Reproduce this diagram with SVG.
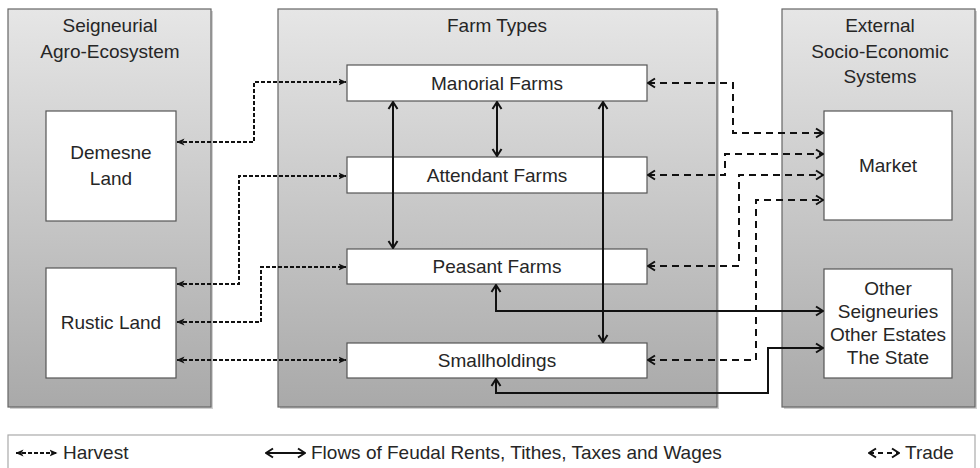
<svg xmlns="http://www.w3.org/2000/svg" width="980" height="468" viewBox="0 0 980 468">
<defs>
<linearGradient id="pg" x1="0" y1="0" x2="0" y2="1">
<stop offset="0" stop-color="#e6e6e6"/>
<stop offset="1" stop-color="#a9a9a9"/>
</linearGradient>
<marker id="hh" viewBox="0 0 8 8" refX="7.5" refY="4" markerWidth="8" markerHeight="8" markerUnits="userSpaceOnUse" orient="auto-start-reverse">
<path d="M0,0.5 L8,4 L0,7.5 L2,4 Z" fill="#111"/>
</marker>
<marker id="oc" viewBox="0 0 10 12" refX="9" refY="6" markerWidth="10" markerHeight="12" markerUnits="userSpaceOnUse" orient="auto-start-reverse">
<path d="M2,1.5 L9,6 L2,10.5" fill="none" stroke="#111" stroke-width="2"/>
</marker>
</defs>
<style>
.panel{fill:url(#pg);stroke:#666;stroke-width:1.2}
.shadow{fill:#999;opacity:0.45}
.box{fill:#fff;stroke:#555;stroke-width:1.2}
text{font-family:"Liberation Sans",Arial,sans-serif;font-size:19px;fill:#262626;text-anchor:middle}
.h{fill:none;stroke:#111;stroke-width:2;stroke-dasharray:4 2;marker-start:url(#hh);marker-end:url(#hh)}
.t{fill:none;stroke:#111;stroke-width:2;stroke-dasharray:7 5;marker-start:url(#oc);marker-end:url(#oc)}
.s{fill:none;stroke:#111;stroke-width:2;marker-start:url(#oc);marker-end:url(#oc)}
</style>
<rect width="980" height="468" fill="#fff"/>

<g id="panel-seigneurial">
<rect class="shadow" x="10" y="11" width="203" height="398"/>
<rect class="panel" x="8" y="9" width="203" height="398"/>
<text x="110" y="32">Seigneurial</text>
<text x="110" y="58">Agro-Ecosystem</text>
</g>
<g id="panel-farm-types">
<rect class="shadow" x="280" y="11" width="439" height="398"/>
<rect class="panel" x="278" y="9" width="439" height="398"/>
<text x="497" y="32">Farm Types</text>
</g>
<g id="panel-external">
<rect class="shadow" x="784" y="11" width="193" height="398"/>
<rect class="panel" x="782" y="9" width="193" height="398"/>
<text x="880" y="32">External</text>
<text x="880" y="58">Socio-Economic</text>
<text x="880" y="83">Systems</text>
</g>

<g id="demesne-land">
<rect class="box" x="46" y="111" width="130" height="110"/>
<text x="111" y="159">Demesne</text>
<text x="111" y="185">Land</text>
</g>
<g id="rustic-land">
<rect class="box" x="46" y="268" width="130" height="110"/>
<text x="111" y="329">Rustic Land</text>
</g>
<g id="manorial-farms">
<rect class="box" x="347" y="65" width="300" height="36"/>
<text x="497" y="90">Manorial Farms</text>
</g>
<g id="attendant-farms">
<rect class="box" x="347" y="157" width="300" height="36"/>
<text x="497" y="182">Attendant Farms</text>
</g>
<g id="peasant-farms">
<rect class="box" x="347" y="249" width="300" height="35"/>
<text x="497" y="273">Peasant Farms</text>
</g>
<g id="smallholdings">
<rect class="box" x="347" y="343" width="300" height="35"/>
<text x="497" y="367">Smallholdings</text>
</g>
<g id="market">
<rect class="box" x="824" y="111" width="128" height="109"/>
<text x="888" y="172">Market</text>
</g>
<g id="other">
<rect class="box" x="824" y="269" width="128" height="109"/>
<text x="888" y="295">Other</text>
<text x="888" y="318">Seigneuries</text>
<text x="888" y="341">Other Estates</text>
<text x="888" y="364">The State</text>
</g>

<g id="connectors">
<path class="h" d="M177,142 H254 V82 H346"/>
<path class="h" d="M177,284 H239 V176 H346"/>
<path class="h" d="M177,322 H261 V267 H346"/>
<path class="h" d="M177,360 H346"/>
<path class="t" d="M648,83 H733 V133 H823"/>
<path class="t" d="M648,175 H725 V154 H823"/>
<path class="t" d="M648,266 H739 V175 H823"/>
<path class="t" d="M648,360 H756 V200 H823"/>
<path class="s" d="M497,102 V156"/>
<path class="s" d="M393,102 V248"/>
<path class="s" d="M603,102 V342"/>
<path class="s" d="M496,285 V311 H823"/>
<path class="s" d="M496,379 V393 H768 V348 H823"/>
</g>

<g id="legend">
<rect x="8" y="435" width="967" height="40" fill="#fff" stroke="#aaa" stroke-width="1.2"/>
<path class="h" d="M16,453 H57"/>
<text x="63" y="459" style="text-anchor:start">Harvest</text>
<path class="s" d="M266,453 H305"/>
<text x="311" y="459" style="text-anchor:start">Flows of Feudal Rents, Tithes, Taxes and Wages</text>
<path class="t" d="M869,453 H899" style="stroke-dasharray:5 4"/>
<text x="905" y="459" style="text-anchor:start">Trade</text>
</g>
</svg>
